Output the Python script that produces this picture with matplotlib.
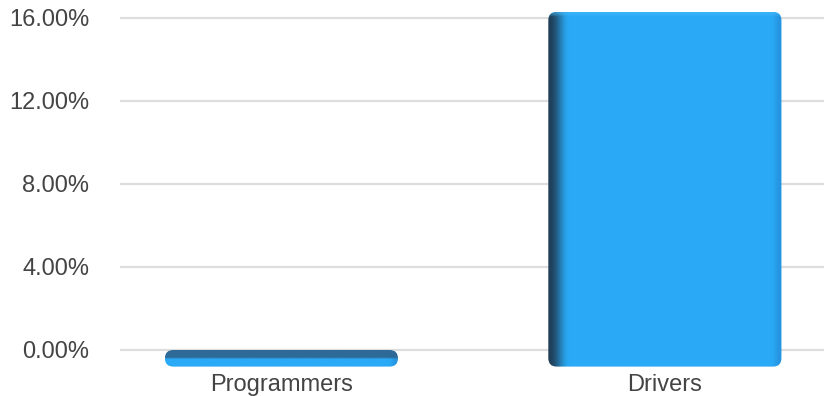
import numpy as np
import matplotlib.pyplot as plt
from matplotlib.patches import FancyBboxPatch
from matplotlib.ticker import FuncFormatter

categories = ["Programmers", "Drivers"]
values = [-0.8, 16.3]
yticks = [0, 4, 8, 12, 16]

plt.rcParams['font.family'] = ['Liberation Sans', 'DejaVu Sans']

base = np.array([42, 170, 246]) / 255.0
side = np.array([38, 148, 224]) / 255.0
dark = np.array([30, 45, 62]) / 255.0
topface = np.array([46, 106, 152]) / 255.0


def smooth(t):
    t = np.clip(t, 0, 1)
    return t * t * (3 - 2 * t)


def bar_image(v, nx=240, ny=200):
    t = np.linspace(0, 1, nx)
    s = np.linspace(0, 1, ny)
    right = smooth((t - 0.955) / 0.04)
    if v < 0:
        # thin slab: dark top face, bright front face
        row = base[None, :] * (1 - right[:, None]) + side[None, :] * right[:, None]
        img = np.repeat(row[None, :, :], ny, axis=0)
        w = 1 - smooth((s - 0.42) / 0.12)
        img = img * (1 - w[:, None, None]) + topface[None, None, :] * w[:, None, None]
    else:
        # left shadow and darker right side give the 3d look
        left = 0.15 + 0.85 * smooth((t - 0.005) / 0.085)
        row = dark[None, :] * (1 - left[:, None]) + base[None, :] * left[:, None]
        row = row * (1 - right[:, None]) + side[None, :] * right[:, None]
        img = np.repeat(row[None, :, :], ny, axis=0)
        w = 1 - smooth(s / 0.012)
        light = np.array([70, 185, 250]) / 255.0
        img = img * (1 - w[:, None, None] * 0.6) + light[None, None, :] * w[:, None, None] * 0.6
    return np.clip(img, 0, 1)


fig = plt.figure(figsize=(8.24, 3.96), dpi=100)
ax = fig.add_axes([120 / 824, 26 / 396, 704 / 824, 370 / 396])

width = 0.608
floor = min(min(values), 0)
for i, v in enumerate(values):
    lo = min(v, 0) if v < 0 else floor
    hi = max(v, 0)
    x0 = i - width / 2
    patch = FancyBboxPatch((x0, lo), width, hi - lo,
                           boxstyle="round,pad=0,rounding_size=0.022",
                           mutation_aspect=18.5, facecolor='none',
                           edgecolor='none', transform=ax.transData)
    ax.add_patch(patch)
    im = ax.imshow(bar_image(v), extent=[x0, x0 + width, lo, hi],
                   aspect='auto', interpolation='bilinear', zorder=3)
    im.set_clip_path(patch)

ax.set_xlim(-0.421, 1.415)
ax.set_ylim(-0.964, 16.867)

ax.set_yticks(yticks)
ax.yaxis.set_major_formatter(FuncFormatter(lambda y, p: "%.2f%%" % y))
ax.yaxis.grid(True, color='#dddddd', linewidth=1.6)
ax.set_axisbelow(True)

ax.set_xticks(range(len(categories)))
ax.set_xticklabels(categories)

for s in ax.spines.values():
    s.set_visible(False)
ax.tick_params(axis='y', length=0, pad=22, labelsize=17, labelcolor='#444444')
ax.tick_params(axis='x', length=0, pad=3, labelsize=17, labelcolor='#444444')

fig.savefig("out.png", dpi=100)
